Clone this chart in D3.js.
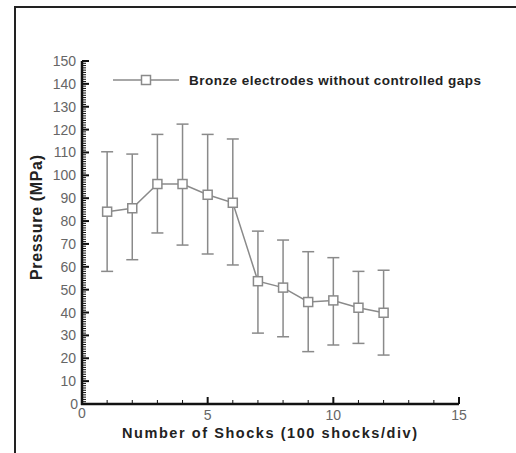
<!DOCTYPE html>
<html>
<head>
<meta charset="utf-8">
<script src="https://cdn.jsdelivr.net/npm/d3@7"></script>
<style>
  body { margin: 0; background: #fff; }
  text { font-family: "Liberation Sans", Arial, sans-serif; }
</style>
</head>
<body>
<div id="container"></div>
<script>
// data
let shocks = [1, 2, 3, 4, 5, 6, 7, 8, 9, 10, 11, 12];
let pressure = [84.1, 85.6, 96.2, 96.2, 91.5, 88.0, 53.7, 50.9, 44.6, 45.3, 42.1, 39.9];
let errUpper = [110.3, 109.3, 117.9, 122.4, 117.9, 115.9, 75.6, 71.7, 66.6, 64.0, 58.0, 58.5];
let errLower = [58.0, 63.1, 74.8, 69.5, 65.6, 60.8, 31.0, 29.4, 22.9, 25.8, 26.5, 21.4];
let xTicks = [0, 5, 10, 15];
let yTicks = [0, 10, 20, 30, 40, 50, 60, 70, 80, 90, 100, 110, 120, 130, 140, 150];
const seriesName = 'Bronze electrodes without controlled gaps';

const width = 516, height = 453;
const svg = d3.select('#container').append('svg').attr('width', width).attr('height', height);

// outer frame (left + top edges visible)
svg.append('path')
    .attr('d', `M15,${height} V7 H${width}`)
    .attr('fill', 'none').attr('stroke', '#222').attr('stroke-width', 2);

const x = d3.scaleLinear().domain([0, 15]).range([82, 459]);
const y = d3.scaleLinear().domain([0, 150]).range([404, 61]);

const axisColor = '#111', lineColor = '#8a8a8a', labelColor = '#666';

// minor ticks
svg.append('g').selectAll('line')
    .data(d3.range(0, 151, 1))
    .enter().append('line')
    .attr('x1', 82).attr('x2', d => d % 10 === 0 ? 89 : 86)
    .attr('y1', d => y(d)).attr('y2', d => y(d))
    .attr('stroke', axisColor).attr('stroke-width', d => d % 10 === 0 ? 2 : 1);

svg.append('g').selectAll('line')
    .data(d3.range(0, 16, 1))
    .enter().append('line')
    .attr('y1', 404).attr('y2', d => d % 5 === 0 ? 397 : 400)
    .attr('x1', d => x(d)).attr('x2', d => x(d))
    .attr('stroke', axisColor).attr('stroke-width', d => d % 5 === 0 ? 2 : 1);

// axis lines
svg.append('line').attr('x1', 82).attr('x2', 82).attr('y1', y(150)).attr('y2', 405)
    .attr('stroke', axisColor).attr('stroke-width', 2.5);
svg.append('line').attr('x1', 81).attr('x2', x(15)).attr('y1', 404).attr('y2', 404)
    .attr('stroke', axisColor).attr('stroke-width', 2.5);

// tick labels
svg.append('g').selectAll('text')
    .data(yTicks)
    .enter().append('text')
    .attr('x', d => d === 0 ? 78 : 76).attr('y', d => y(d) + 5)
    .attr('text-anchor', 'end')
    .attr('font-size', 14).attr('fill', labelColor)
    .text(d => d);

svg.append('g').selectAll('text')
    .data(xTicks)
    .enter().append('text')
    .attr('x', d => x(d)).attr('y', d => d === 0 ? 418 : 420)
    .attr('text-anchor', 'middle')
    .attr('font-size', 14).attr('fill', labelColor)
    .text(d => d);

// axis titles
svg.append('text')
    .attr('x', 122).attr('y', 438)
    .attr('textLength', 295).attr('lengthAdjust', 'spacing')
    .attr('font-size', 14.5).attr('font-weight', 'bold').attr('fill', '#222')
    .text('Number of Shocks (100 shocks/div)');

svg.append('text')
    .attr('transform', 'translate(42, 280) rotate(-90)')
    .attr('textLength', 125).attr('lengthAdjust', 'spacing')
    .attr('font-size', 16).attr('font-weight', 'bold').attr('fill', '#222')
    .text('Pressure (MPa)');

// error bars
let bars = svg.append('g').selectAll('g')
    .data(shocks)
    .enter().append('g')
    .attr('stroke', lineColor).attr('stroke-width', 1.5);

bars.append('line')
    .attr('x1', d => x(d)).attr('x2', d => x(d))
    .attr('y1', (d, i) => y(errUpper[i])).attr('y2', (d, i) => y(errLower[i]));
bars.append('line')
    .attr('x1', d => x(d) - 6).attr('x2', d => x(d) + 6)
    .attr('y1', (d, i) => y(errUpper[i])).attr('y2', (d, i) => y(errUpper[i]));
bars.append('line')
    .attr('x1', d => x(d) - 6).attr('x2', d => x(d) + 6)
    .attr('y1', (d, i) => y(errLower[i])).attr('y2', (d, i) => y(errLower[i]));

// series line
const line = d3.line().x(d => x(d[0])).y(d => y(d[1]));
svg.append('path')
    .datum(shocks.map((d, i) => [d, pressure[i]]))
    .attr('d', line)
    .attr('fill', 'none').attr('stroke', lineColor).attr('stroke-width', 1.5);

// square markers
svg.append('g').selectAll('rect')
    .data(shocks)
    .enter().append('rect')
    .attr('x', d => x(d) - 4.5).attr('y', (d, i) => y(pressure[i]) - 4.5)
    .attr('width', 9).attr('height', 9)
    .attr('fill', '#fff').attr('stroke', lineColor).attr('stroke-width', 1.5);

// legend
const legend = svg.append('g');
legend.append('line').attr('x1', 113).attr('x2', 179).attr('y1', 80).attr('y2', 80)
    .attr('stroke', lineColor).attr('stroke-width', 1.5);
legend.append('rect').attr('x', 141.5).attr('y', 75.5).attr('width', 9).attr('height', 9)
    .attr('fill', '#fff').attr('stroke', lineColor).attr('stroke-width', 1.5);
legend.append('text').attr('x', 189).attr('y', 85)
    .attr('textLength', 292).attr('lengthAdjust', 'spacing')
    .attr('font-size', 13.5).attr('font-weight', 'bold').attr('fill', '#222')
    .text(seriesName);
</script>
</body>
</html>
